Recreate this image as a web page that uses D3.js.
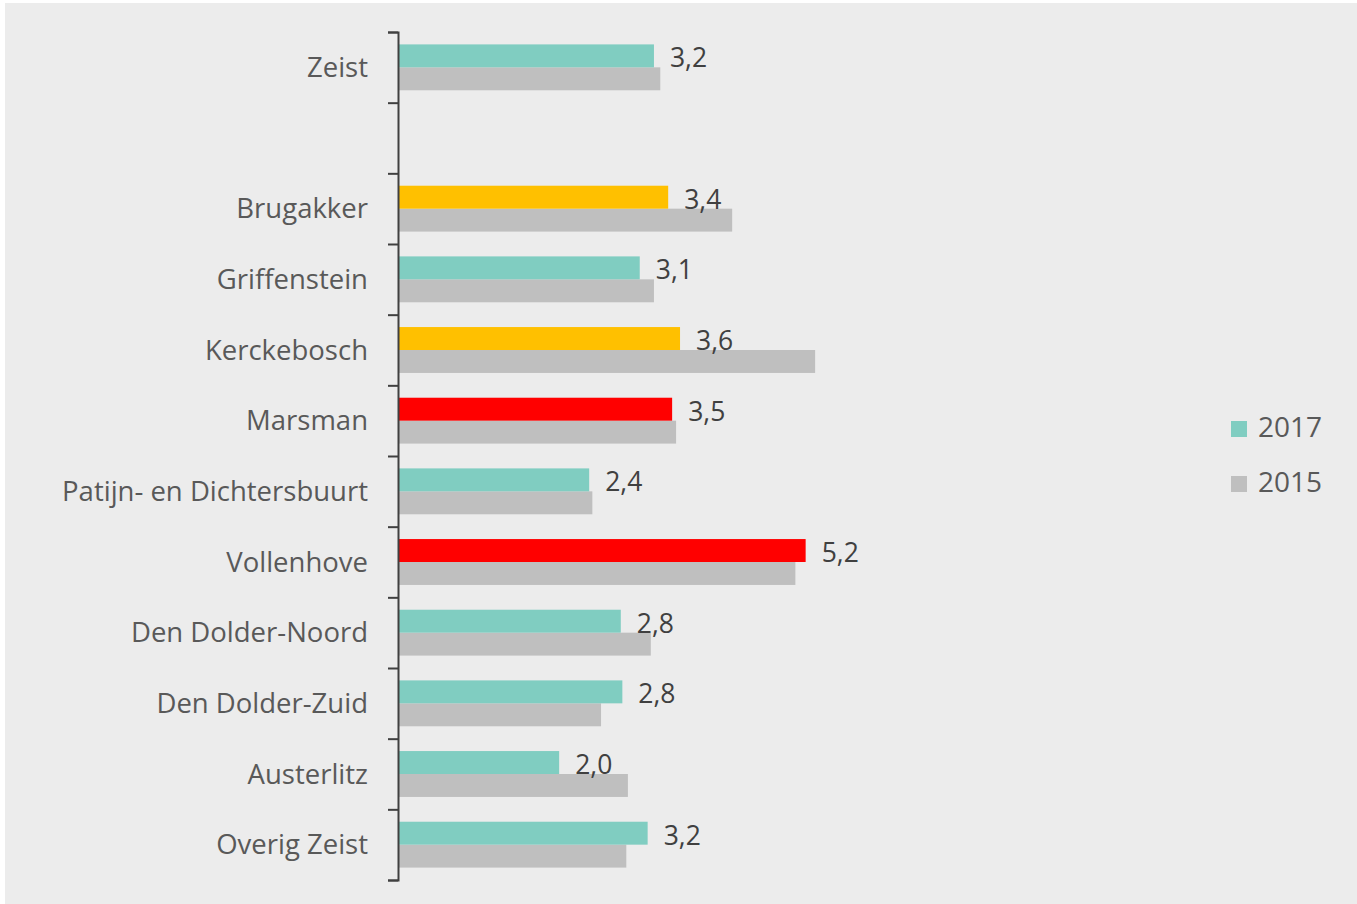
<!DOCTYPE html>
<html>
<head>
<meta charset="utf-8">
<script src="https://cdn.jsdelivr.net/npm/d3@7"></script>
<style>
  html, body { margin: 0; padding: 0; background: white; }
  svg { display: block; }
</style>
</head>
<body>
<div id="chart"></div>
<script>
// wijken, with an empty row between Zeist and the wijken
var categories = [
  "Zeist", "", "Brugakker", "Griffenstein", "Kerckebosch", "Marsman",
  "Patijn- en Dichtersbuurt", "Vollenhove", "Den Dolder-Noord",
  "Den Dolder-Zuid", "Austerlitz", "Overig Zeist"
];
var series = ["2017", "2015"];
var values2017 = [3.24, null, 3.42, 3.06, 3.57, 3.47, 2.42, 5.16, 2.82, 2.84, 2.04, 3.16];
var values2015 = [3.32, null, 4.23, 3.24, 5.28, 3.52, 2.46, 5.03, 3.20, 2.57, 2.91, 2.89];
// signal of the 2017 value: normaal / aandacht / hoog
var signal2017 = ["normaal", null, "aandacht", "normaal", "aandacht", "hoog",
  "normaal", "hoog", "normaal", "normaal", "normaal", "normaal"];

var
  WIDTH = 1357,
  HEIGHT = 904,
  BACKGROUND = "#ececec",
  AXIS_COLOR = "#404040",
  LABEL_COLOR = "#595959",
  VALUE_COLOR = "#404040",
  FONT = "'Open Sans', 'Noto Sans', sans-serif",
  LABEL_SIZE = 27.5,
  VALUE_SIZE = 26.5,
  LEGEND_SIZE = 28,

  // plot area
  PLOT_TOP = 32,
  PLOT_BOTTOM = 880,
  PLOT_LEFT = 398,
  PX_PER_UNIT = 79,

  seriesColor = d3.scaleOrdinal().domain(series).range(["#80cdc1", "#bfbfbf"]),
  signalColor = d3.scaleOrdinal()
    .domain(["normaal", "aandacht", "hoog"])
    .range(["#80cdc1", "#ffc000", "#ff0000"]);

var svg = d3.select("#chart").append("svg")
  .attr("width", WIDTH)
  .attr("height", HEIGHT)
  .style("font-family", FONT);

svg.append("rect")
  .attr("x", 5).attr("y", 3)
  .attr("width", WIDTH - 5).attr("height", HEIGHT - 3)
  .attr("fill", BACKGROUND);

var rows = categories.map(function(name, i){
  return {
    index: i,
    name: name,
    v2017: values2017[i],
    v2015: values2015[i],
    signal: signal2017[i]
  };
});

var y = d3.scaleBand()
  .domain(d3.range(categories.length))
  .range([PLOT_TOP, PLOT_BOTTOM])
  .padding(0);

// bar pair inside a band
var yInner = d3.scaleBand()
  .domain(series)
  .range([0, y.bandwidth()])
  .paddingInner(0)
  .paddingOuter(0.54);

// boundaries of the bands, for the ticks
var yEdges = d3.scaleLinear()
  .domain([0, categories.length])
  .range([PLOT_TOP, PLOT_BOTTOM]);

var x = d3.scaleLinear()
  .domain([0, 10])
  .range([PLOT_LEFT, PLOT_LEFT + 10 * PX_PER_UNIT]);

// bars
var groups = svg.append("g").selectAll("g")
  .data(rows.filter(function(d){ return d.v2017 != null; }))
  .join("g")
  .attr("transform", function(d){ return "translate(0," + y(d.index) + ")"; });

groups.append("rect")
  .attr("x", x(0))
  .attr("y", yInner("2015"))
  .attr("height", yInner.bandwidth())
  .attr("width", function(d){ return x(d.v2015) - x(0); })
  .attr("fill", seriesColor("2015"));

groups.append("rect")
  .attr("x", x(0))
  .attr("y", yInner("2017"))
  .attr("height", yInner.bandwidth())
  .attr("width", function(d){ return x(d.v2017) - x(0); })
  .attr("fill", function(d){ return signalColor(d.signal); });

// value labels of 2017
var fmt = d3.format(".1f");
groups.append("text")
  .attr("x", function(d){ return x(d.v2017) + 16; })
  .attr("y", yInner("2017") + yInner.bandwidth() / 2)
  .attr("dy", "0.43em")
  .attr("font-size", VALUE_SIZE)
  .attr("fill", VALUE_COLOR)
  .text(function(d){ return fmt(d.v2017).replace(".", ","); });

// axis
var axis = svg.append("g")
  .attr("transform", "translate(" + PLOT_LEFT + ",0)")
  .call(d3.axisLeft(yEdges)
    .tickValues(d3.range(categories.length + 1))
    .tickSize(10)
    .tickFormat(""));
axis.selectAll("path, line")
  .attr("stroke", AXIS_COLOR)
  .attr("stroke-width", 2);

// category labels
svg.append("g").selectAll("text")
  .data(rows)
  .join("text")
  .attr("x", 368)
  .attr("y", function(d){ return y(d.index) + y.bandwidth() / 2; })
  .attr("dy", "0.35em")
  .attr("text-anchor", "end")
  .attr("font-size", LABEL_SIZE)
  .attr("fill", LABEL_COLOR)
  .text(function(d){ return d.name; });

// legend
var legend = svg.append("g").selectAll("g")
  .data(series)
  .join("g")
  .attr("transform", function(d, i){ return "translate(1231," + (421 + i * 55) + ")"; });

legend.append("rect")
  .attr("width", 16)
  .attr("height", 16)
  .attr("fill", function(d){ return seriesColor(d); });

legend.append("text")
  .attr("x", 27)
  .attr("y", 8)
  .attr("dy", "0.3em")
  .attr("font-size", LEGEND_SIZE)
  .attr("fill", LABEL_COLOR)
  .text(function(d){ return d; });
</script>
</body>
</html>
